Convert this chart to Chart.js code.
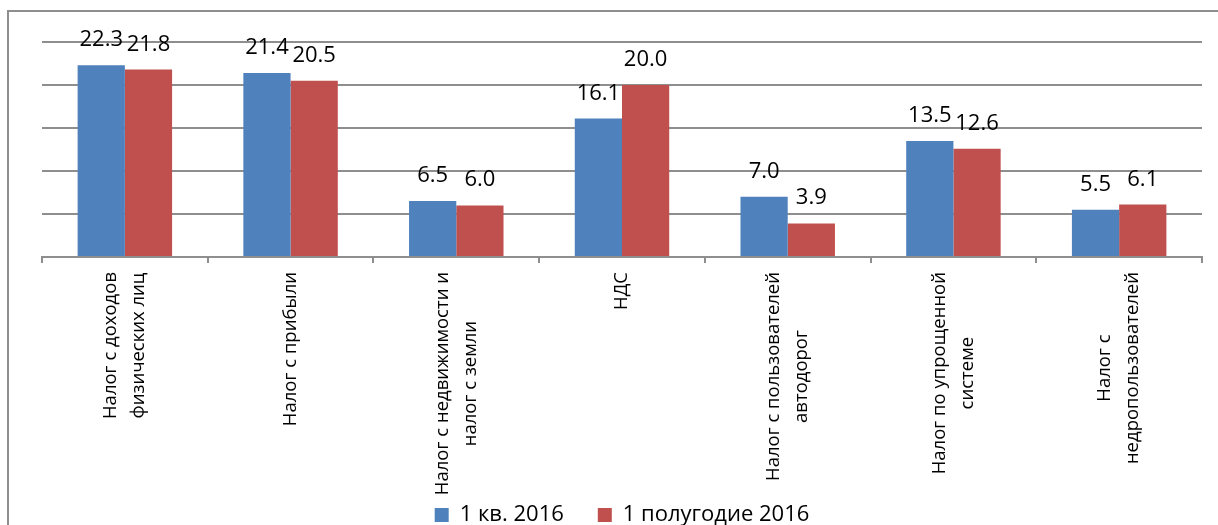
<!DOCTYPE html>
<html>
<head>
<meta charset="utf-8">
<script src="https://cdn.jsdelivr.net/npm/chart.js@4/dist/chart.umd.min.js"></script>
<style>
  html, body { margin: 0; padding: 0; background: #fff; overflow: hidden; }
  #wrap { position: relative; width: 1218px; height: 525px; }
  #frame {
    position: absolute; left: 7px; top: 10px; width: 1300px; height: 600px;
    border-left: 2px solid #8e8e8e; border-top: 2px solid #8e8e8e;
    pointer-events: none;
  }
</style>
</head>
<body>
<div id="wrap">
  <canvas id="taxChart" width="1218" height="525"></canvas>
  <div id="frame"></div>
</div>
<script>
// Categories (multi-line labels)
const categories = [
    ['Налог с доходов', 'физических лиц'],
    ['Налог с прибыли'],
    ['Налог с недвижимости и', 'налог с земли'],
    ['НДС'],
    ['Налог с пользователей', 'автодорог'],
    ['Налог по упрощенной', 'системе'],
    ['Налог с', 'недропользователей']
];

const seriesNames = ['1 кв. 2016', '1 полугодие 2016'];
const q1Values = [22.3, 21.4, 6.5, 16.1, 7.0, 13.5, 5.5];
const h1Values = [21.8, 20.5, 6.0, 20.0, 3.9, 12.6, 6.1];

const yMax = 25;
const yStep = 5;

// value labels above bars
const valueLabels = {
    id: 'valueLabels',
    afterDatasetsDraw(chart) {
        const ctx = chart.ctx;
        ctx.save();
        ctx.font = '22px "Open Sans"';
        ctx.fillStyle = '#000';
        ctx.textAlign = 'center';
        ctx.textBaseline = 'alphabetic';
        chart.data.datasets.forEach((ds, i) => {
            chart.getDatasetMeta(i).data.forEach((bar, j) => {
                ctx.fillText(ds.data[j].toFixed(1), bar.x, bar.y - 19);
            });
        });
        ctx.restore();
    }
};

// rotated, centered multi-line category labels
const categoryLabels = {
    id: 'categoryLabels',
    afterDraw(chart) {
        const ctx = chart.ctx;
        const xScale = chart.scales.x;
        const lineGap = 28;
        ctx.save();
        ctx.font = '18.5px "Open Sans"';
        ctx.fillStyle = '#000';
        ctx.textAlign = 'center';
        ctx.textBaseline = 'middle';
        categories.forEach((lines, i) => {
            const x = xScale.getPixelForValue(i);
            const maxW = Math.max(...lines.map(l => ctx.measureText(l).width));
            const y0 = xScale.top + 15 + maxW / 2;
            ctx.save();
            ctx.translate(x, y0);
            ctx.rotate(-Math.PI / 2);
            lines.forEach((line, k) => {
                ctx.fillText(line, 0, (k - (lines.length - 1) / 2) * lineGap);
            });
            ctx.restore();
        });
        ctx.restore();
    }
};

const ctx = document.getElementById('taxChart').getContext('2d');

new Chart(ctx, {
    type: 'bar',
    data: {
        labels: categories.map(c => c.join(' ')),
        datasets: [{
            label: seriesNames[0],
            data: q1Values,
            backgroundColor: '#4F81BD'
        }, {
            label: seriesNames[1],
            data: h1Values,
            backgroundColor: '#C0504D'
        }]
    },
    options: {
        responsive: false,
        animation: false,
        layout: {
            padding: { left: 42, right: 16, top: 42, bottom: -11 }
        },
        datasets: {
            bar: {
                categoryPercentage: 0.57,
                barPercentage: 1.0
            }
        },
        scales: {
            x: {
                offset: true,
                grid: {
                    offset: true,
                    drawOnChartArea: false,
                    drawTicks: true,
                    tickLength: 6,
                    color: '#8e8e8e',
                    lineWidth: 2
                },
                border: { display: true, color: '#8e8e8e', width: 2 },
                ticks: { display: false },
                afterFit(scale) {
                    scale.height = 213;
                }
            },
            y: {
                min: 0,
                max: yMax,
                ticks: { display: false, stepSize: yStep },
                grid: { drawTicks: false, color: '#8e8e8e', lineWidth: 2 },
                border: { display: false }
            }
        },
        plugins: {
            legend: {
                position: 'bottom',
                labels: {
                    font: { family: 'Open Sans', size: 22 },
                    color: '#000',
                    boxWidth: 14,
                    boxHeight: 14,
                    padding: 34
                }
            },
            tooltip: { enabled: false }
        }
    },
    plugins: [valueLabels, categoryLabels]
});
</script>
</body>
</html>
